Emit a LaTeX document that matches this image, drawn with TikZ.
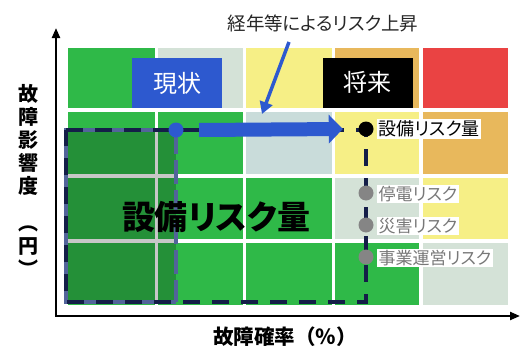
\documentclass[tikz,border=0pt]{standalone}
\usepackage{fontspec}
\setmainfont{Noto Sans CJK JP}[RawFeature=+palt]
\newfontfamily\jpfw{Noto Sans CJK JP}
\usetikzlibrary{arrows.meta}
\definecolor{cG}{HTML}{2FB948}
\definecolor{cL}{HTML}{D4E2D7}
\definecolor{cB}{HTML}{C9DCDA}
\definecolor{cY}{HTML}{F6EF86}
\definecolor{cO}{HTML}{E8B85C}
\definecolor{cR}{HTML}{EA4343}
\definecolor{cBlue}{HTML}{2D59CF}
\definecolor{cNavy}{HTML}{141E48}
\definecolor{cSlate}{HTML}{52649A}
\definecolor{cGray}{HTML}{858585}
\definecolor{cGrayText}{HTML}{787878}
\newcommand\gcell[5]{\fill[#5] (#1,#2) rectangle (#3,#4);}
\begin{document}
\begin{tikzpicture}[x=1pt,y=-1pt,
  tagbox/.style={minimum width=90pt,minimum height=50pt,inner sep=0pt,text=white,font=\fontsize{24}{27}\selectfont},
  dotnode/.style={circle,minimum size=15pt,inner sep=0pt},
  risklab/.style={fill=white,inner sep=1.5pt,anchor=west,font=\fontsize{18}{20}\selectfont},
  greylab/.style={risklab,text=cGrayText,font=\fontsize{17}{19}\selectfont},
  axisline/.style={line width=2.2pt,-{Triangle[length=10pt,width=8pt]}},
  bigarrow/.style={line width=14pt,cBlue,-{Triangle[length=14pt,width=28pt]}},
  thinarrow/.style={line width=3.5pt,cBlue,-{Triangle[length=12pt,width=13pt]}}]
\useasboundingbox (0,0) rectangle (520,351);
% grid cells
\gcell{68}{48}{155}{108}{cG}
\gcell{158}{48}{243}{108}{cL}
\gcell{246}{48}{332}{108}{cY}
\gcell{335}{48}{419}{108}{cO}
\gcell{423}{48}{508}{108}{cR}
\gcell{68}{112}{155}{174}{cG}
\gcell{158}{112}{243}{174}{cG}
\gcell{246}{112}{332}{174}{cB}
\gcell{335}{112}{419}{174}{cY}
\gcell{423}{112}{508}{174}{cO}
\gcell{68}{178}{155}{239}{cG}
\gcell{158}{178}{243}{239}{cG}
\gcell{246}{178}{332}{239}{cG}
\gcell{335}{178}{419}{239}{cL}
\gcell{423}{178}{508}{239}{cY}
\gcell{68}{243}{155}{305}{cG}
\gcell{158}{243}{243}{305}{cG}
\gcell{246}{243}{332}{305}{cG}
\gcell{335}{243}{419}{305}{cG}
\gcell{423}{243}{508}{305}{cL}
% axes
\coordinate (O) at (56,316);
\coordinate (ytop) at (56,28);
\coordinate (xend) at (520,316);
\draw[axisline] (O) -- (ytop);
\draw[axisline] ([xshift=-1pt]O) -- (xend);
% current risk area
\fill[black,fill opacity=0.22] (66,130) rectangle (176,302);
\draw[cSlate,line width=4pt,dash pattern=on 24pt off 6pt] (176,130) -- (176,302);
\draw[cSlate,line width=4pt] (176,302) -- (66,302) -- (66,130) -- (176,130);
% future risk area
\draw[cNavy,line width=4.5pt,dash pattern=on 17pt off 12pt] (66,130) -- (366,130) -- (366,302) -- (66,302) -- cycle;
% boxes
\node[tagbox,fill=cBlue] (now) at (177,83) {現状};
\node[tagbox,fill=black] (future) at (367.5,82.5) {将来};
% dots
\node[dotnode,fill=cBlue] (cnow) at (176,130) {};
\node[dotnode,fill=black] (cfut) at (366,129) {};
\node[dotnode,fill=cGray] (c1) at (366,193) {};
\node[dotnode,fill=cGray] (c2) at (366,225) {};
\node[dotnode,fill=cGray] (c3) at (366,257) {};
% arrow
\draw[bigarrow] ([xshift=15.5pt]cnow.east) -- ([xshift=-15.5pt]cfut.west);
% labels
\node[risklab] (l0) at (377,129) {設備リスク量};
\node[greylab] (l1) at (377,194) {停電リスク};
\node[greylab] (l2) at (377,226) {災害リスク};
\node[greylab] (l3) at (377,258) {事業運営リスク};
\node[font=\fontsize{33}{36}\selectfont\bfseries] (big) at (216,217) {設備リスク量};
% top note
\node[font=\fontsize{18.5}{21}\selectfont,text=black!85] (note) at (323,23) {経年等によるリスク上昇};
\coordinate (dstart) at (289,42);
\coordinate (dtip) at (262,114);
\draw[thinarrow] (dstart) -- (dtip);
% axis labels
\node[font=\fontsize{20}{23}\selectfont\bfseries,align=center] (ylab) at (28,180) {故\\障\\影\\響\\度\\[14pt]︵\\円\\︶};
\node[font=\jpfw\fontsize{20.5}{23}\selectfont\bfseries] (xlab) at (285,337) {故障確率（％）};
\end{tikzpicture}
\end{document}
